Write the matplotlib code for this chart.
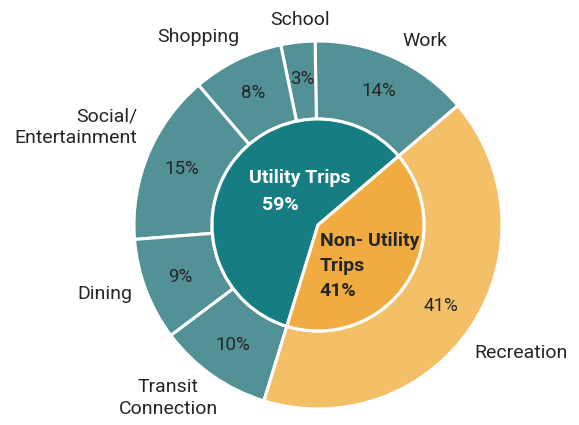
import matplotlib.pyplot as plt

plt.rcParams['font.family'] = ['Roboto', 'DejaVu Sans']

# Data
outer_labels = ["Work", "School", "Shopping", "Social/\nEntertainment", "Dining",
                "Transit\nConnection", "Recreation"]
outer_values = [14, 3, 8, 15, 9, 10, 41]
inner_labels = ["Utility Trips", "Non- Utility\nTrips"]
inner_values = [59, 41]

# Colours
teal_outer = "#529297"
teal_inner = "#167e82"
orange_outer = "#f3bf67"
orange_inner = "#f0ac40"
txt = "#262626"

outer_colors = [teal_outer] * 6 + [orange_outer]
inner_colors = [teal_inner, orange_inner]

start = 40.5
r_in = 0.576

fig = plt.figure(figsize=(5.79, 4.25), dpi=100)
ax = fig.add_axes([0, 0, 1, 1])

wedges, _, pcts = ax.pie(outer_values, colors=outer_colors, startangle=start,
                         radius=1.0, counterclock=True,
                         autopct=lambda p: f"{p:.0f}%", pctdistance=0.8,
                         wedgeprops=dict(width=1 - r_in, edgecolor="white", linewidth=2.2),
                         textprops=dict(color=txt, fontsize=13.5))

ax.pie(inner_values, colors=inner_colors, startangle=start, radius=r_in,
       counterclock=True,
       wedgeprops=dict(edgecolor="white", linewidth=2.2))

# category labels around the ring
label_pos = [(0.46, 1.0, "left"), (-0.098, 1.114, "center"), (-0.652, 1.022, "center"),
             (-0.984, 0.533, "right"), (-1.158, -0.375, "center"),
             (-0.815, -0.94, "center"), (0.85, -0.696, "left")]
for lab, (x, y, ha) in zip(outer_labels, label_pos):
    ax.text(x, y, lab, ha=ha, va="center", fontsize=14, color=txt,
            multialignment=ha if ha != "center" else "center", linespacing=1.25)

# inner labels
ax.text(-0.1, 0.255, inner_labels[0], ha="center", va="center", fontsize=14,
        fontweight="bold", color="white")
ax.text(-0.207, 0.108, f"{inner_values[0]}%", ha="center", va="center", fontsize=14,
        fontweight="bold", color="white")
ax.text(0.01, -0.04, f"{inner_labels[1]}\n{inner_values[1]}%", ha="left", va="top",
        fontsize=14, fontweight="bold", color=txt, linespacing=1.5)

ax.set_xlim(-318 / 184, (579 - 318) / 184)
ax.set_ylim(-(425 - 225) / 184, 225 / 184)
ax.set_aspect("equal")
ax.axis("off")

fig.savefig("out.png", dpi=100, facecolor="white")
